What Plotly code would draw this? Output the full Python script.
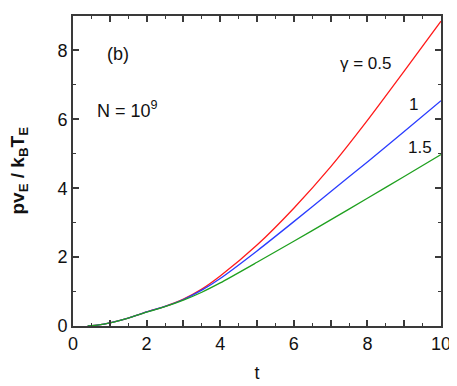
import plotly.graph_objects as go

# ---------------------------------------------------------------------------
# Data
# ---------------------------------------------------------------------------
t = [0.4, 0.7, 1.0, 1.5, 2.0, 2.5, 3.0, 3.5, 4.0, 5.0, 6.0, 7.0, 8.0, 9.0, 10.0]
p_gamma_05 = [0.0, 0.03, 0.09, 0.23, 0.41, 0.57, 0.78, 1.07, 1.45, 2.35, 3.42, 4.62, 5.97, 7.40, 8.85]
p_gamma_10 = [0.0, 0.03, 0.09, 0.23, 0.41, 0.57, 0.77, 1.04, 1.38, 2.18, 3.03, 3.90, 4.76, 5.65, 6.54]
p_gamma_15 = [0.0, 0.03, 0.09, 0.23, 0.40, 0.56, 0.75, 0.98, 1.25, 1.85, 2.46, 3.08, 3.71, 4.34, 4.98]

x_tickvals = [0, 1, 2, 3, 4, 5, 6, 7, 8, 9, 10]
x_ticktext = ["0", "", "2", "", "4", "", "6", "", "8", "", "10"]

COLOR_RED = "#ff1a1a"
COLOR_BLUE = "#2a3cff"
COLOR_GREEN = "#1fa01f"
FRAME = "#3a3a3a"
FONT = "Liberation Sans, Arial, sans-serif"

fig = go.Figure()
for y, color in [(p_gamma_05, COLOR_RED), (p_gamma_10, COLOR_BLUE), (p_gamma_15, COLOR_GREEN)]:
    fig.add_trace(go.Scatter(
        x=t, y=y, mode="lines",
        line=dict(color=color, width=1.3, shape="spline", smoothing=0.6),
        showlegend=False,
    ))

# --- text labels ---
notes = [
    (1.21, 7.91, "(b)", 18),
    (1.49, 6.29, "N = 10<sup>9</sup>", 18),
    (7.97, 7.63, "\u03b3 = 0.5", 17),
    (9.24, 6.43, "1", 17),
    (9.43, 5.17, "1.5", 17),
]
for x, y, txt, size in notes:
    fig.add_annotation(x=x, y=y, text=txt, showarrow=False,
                       font=dict(size=size, color="#111111", family=FONT))

# y-axis title placed by hand (centred on the plot height, far left)
fig.add_annotation(
    xref="paper", yref="paper", x=-0.148, y=0.5,
    xanchor="center", yanchor="middle", textangle=-90, showarrow=False,
    text="<b>pv<sub>E</sub> / k<sub>B</sub>T<sub>E</sub></b>",
    font=dict(size=19, color="#111111", family=FONT),
)

axis_common = dict(
    showline=True, linecolor=FRAME, linewidth=2, mirror="ticks",
    ticks="inside", tickcolor=FRAME, tickwidth=1.5, ticklen=6,
    showgrid=False, zeroline=False,
    tickfont=dict(size=18, color="#111111", family=FONT),
)

fig.update_xaxes(
    range=[0, 10], tickmode="array", tickvals=x_tickvals, ticktext=x_ticktext,
    minor=dict(dtick=0.5, ticks="inside", ticklen=3, tickcolor=FRAME, tickwidth=1.2),
    title=dict(text="t", font=dict(size=18, color="#111111", family=FONT), standoff=14),
    **axis_common,
)
fig.update_yaxes(
    range=[0, 9], dtick=2,
    minor=dict(dtick=1, ticks="inside", ticklen=3, tickcolor=FRAME, tickwidth=1.2),
    **axis_common,
)

# the page body adds an 8px offset, so the figure is 8px smaller each way
fig.update_layout(
    width=449, height=378,
    paper_bgcolor="white", plot_bgcolor="white",
    margin=dict(l=65, r=16, t=6, b=60),
)

fig.write_html("out.html")
